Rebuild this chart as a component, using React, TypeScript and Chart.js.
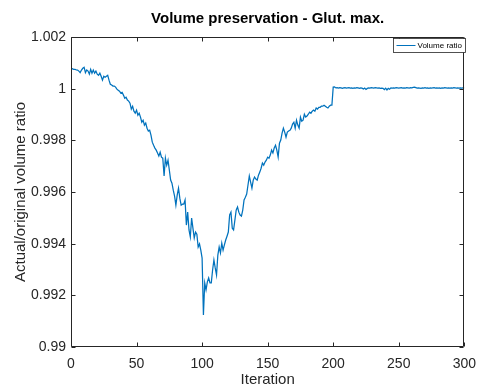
import { useEffect, useRef } from "react";
import { Chart, registerables } from "chart.js";

Chart.register(...registerables);

const TITLE = "Volume preservation - Glut. max.";
const X_LABEL = "Iteration";
const Y_LABEL = "Actual/original volume ratio";
const SERIES_LABEL = "Volume ratio";

const X_TICKS = [0, 50, 100, 150, 200, 250, 300];
const Y_TICKS = [0.99, 0.992, 0.994, 0.996, 0.998, 1, 1.002];

// Volume ratio per iteration, starting at iteration 0.
const VOLUME_RATIO = [
  1.00075, 1.00077, 1.00075, 1.00075, 1.00073, 1.00072, 1.00068, 1.00062, 1.00072, 1.00079,
  1.00083, 1.00062, 1.00072, 1.00068, 1.00056, 1.00075, 1.0006, 1.00072, 1.0006, 1.00068,
  1.00056, 1.00052, 1.0006, 1.00048, 1.00033, 1.00048, 1.00044, 1.00048, 1.00052, 1.00033,
  1.00017, 1.00014, 1.0001, 1.0001, 1.00006, 0.99998, 0.99994, 0.9999, 0.99983, 0.99986,
  0.99975, 0.99963, 0.99967, 0.99956, 0.99952, 0.99944, 0.99921, 0.99932, 0.99913, 0.99905,
  0.99917, 0.99897, 0.99905, 0.9989, 0.9987, 0.99878, 0.99859, 0.99867, 0.99847, 0.99836,
  0.99839, 0.9982, 0.99793, 0.99781, 0.9977, 0.99762, 0.99751, 0.99739, 0.99754, 0.99735,
  0.99731, 0.99662, 0.99731, 0.99704, 0.99723, 0.99685, 0.99646, 0.99634, 0.99607, 0.99584,
  0.99549, 0.99588, 0.99615, 0.99576, 0.99549, 0.99553, 0.99553, 0.99569, 0.99472, 0.99522,
  0.99453, 0.99426, 0.99499, 0.9946, 0.99422, 0.99445, 0.99437, 0.99387, 0.99399, 0.99375,
  0.99344, 0.99124, 0.99248, 0.99221, 0.99252, 0.99267, 0.99248, 0.99248, 0.99298, 0.99337,
  0.99306, 0.99279, 0.99356, 0.99387, 0.99364, 0.99402, 0.99375, 0.99395, 0.99414, 0.99429,
  0.99445, 0.99511, 0.99522, 0.9946, 0.99453, 0.99491, 0.9953, 0.99542, 0.99522, 0.99511,
  0.99507, 0.9953, 0.99569, 0.9958, 0.99592, 0.99627, 0.99662, 0.99638, 0.99615, 0.99646,
  0.99658, 0.9965, 0.99646, 0.99665, 0.99677, 0.99692, 0.99712, 0.99704, 0.99716, 0.99723,
  0.99735, 0.99731, 0.99743, 0.99762, 0.99751, 0.9977, 0.99781, 0.99762, 0.99735, 0.99789,
  0.99801, 0.99828, 0.99847, 0.99832, 0.99812, 0.99832, 0.99836, 0.99839, 0.99847, 0.99863,
  0.9987, 0.99847, 0.99878, 0.99859, 0.99847, 0.9989, 0.99874, 0.99878, 0.99901, 0.9989,
  0.99894, 0.99901, 0.99909, 0.99905, 0.99913, 0.99917, 0.99913, 0.99925, 0.99921, 0.99928,
  0.99928, 0.99932, 0.99932, 0.99936, 0.99932, 0.99928, 0.99925, 0.99932, 0.99936, 0.99936,
  1.00006, 1.00007, 1.00003, 1.00004, 1.00002, 1.00004, 1.00003, 1.00001, 1.00003, 1.00004,
  1.00002, 1.00003, 1.00004, 1.00002, 1.00003, 1.00001, 1.00003, 1.00002, 1.00004, 1.00003,
  1.00001, 1.00003, 1.00002, 0.99999, 1.00002, 0.99997, 1.00001, 1.00003, 1.00002, 1.00004,
  1.00003, 1.00002, 1.00004, 1.00003, 1.00002, 1.00003, 1.00001, 1.00002, 1.00001, 0.99996,
  1.00002, 0.99995, 1.00001, 0.99998, 1.00003, 1.00002, 1.00003, 1.00002, 1.00004, 1.00003,
  1.00002, 1.00003, 1.00004, 1.00002, 1.00003, 1.00002, 1.00004, 1.00003, 1.00002, 1.00004,
  1.00003, 1.00005, 1.00006, 1.00004, 1.00002, 1.00003, 1.00002, 1.00001, 1.00003, 1.00002,
  1.00004, 1.00002, 1.00003, 1.00001, 1.00003, 1.00002, 1.00003, 1.00004, 1.00002, 1.00003,
  1.00002, 1.00003, 1.00001, 1.00003, 1.00002, 1.00004, 1.00003, 1.00002, 1.00003, 1.00002,
  1.00003, 1.00002, 1.00004, 1.00003, 1.00002, 1.00003, 1.00002, 1.00003, 1.00002, 1.00003,
  1.00003,
];

const WIDTH = 485;
const HEIGHT = 387;
const FONT = "'Liberation Sans', Arial, Helvetica, sans-serif";
const AXIS_COLOR = "#262626";
const LINE_COLOR = "#0072BD";

const fmt = (v: number) => String(Number(v.toFixed(3)));

// Box around the axes with inward tick marks, title and legend.
const decorations = {
  id: "decorations",
  afterDatasetsDraw(chart: any) {
    const { ctx, chartArea: a, scales } = chart;
    const xs = scales.x;
    const ys = scales.y;
    const L = Math.round(a.left) + 0.5;
    const R = Math.round(a.right) - 0.5;
    const T = Math.round(a.top) + 0.5;
    const B = Math.round(a.bottom) - 0.5;
    const tick = 4;

    ctx.save();
    ctx.strokeStyle = AXIS_COLOR;
    ctx.lineWidth = 1;
    ctx.beginPath();
    ctx.rect(L, T, R - L, B - T);
    for (const v of X_TICKS) {
      const px = Math.round(xs.getPixelForValue(v)) + 0.5;
      ctx.moveTo(px, B);
      ctx.lineTo(px, B - tick);
      ctx.moveTo(px, T);
      ctx.lineTo(px, T + tick);
    }
    for (const v of Y_TICKS) {
      const py = Math.round(ys.getPixelForValue(v)) + 0.5;
      ctx.moveTo(L, py);
      ctx.lineTo(L + tick, py);
      ctx.moveTo(R, py);
      ctx.lineTo(R - tick, py);
    }
    ctx.stroke();

    // title
    ctx.fillStyle = "#000";
    ctx.font = `bold 15px ${FONT}`;
    ctx.textAlign = "center";
    ctx.textBaseline = "middle";
    ctx.fillText(TITLE, (a.left + a.right) / 2, 18.5);

    // legend
    const bx = 393.5;
    const by = 38.5;
    const bw = 72;
    const bh = 14;
    ctx.fillStyle = "#fff";
    ctx.fillRect(bx, by, bw, bh);
    ctx.strokeStyle = AXIS_COLOR;
    ctx.lineWidth = 0.8;
    ctx.strokeRect(bx, by, bw, bh);
    ctx.strokeStyle = LINE_COLOR;
    ctx.lineWidth = 1;
    ctx.beginPath();
    ctx.moveTo(bx + 3, by + 7);
    ctx.lineTo(bx + 22, by + 7);
    ctx.stroke();
    ctx.fillStyle = "#000";
    ctx.font = `8px ${FONT}`;
    ctx.textAlign = "left";
    ctx.textBaseline = "middle";
    ctx.fillText(SERIES_LABEL, bx + 24, by + 7.5);
    ctx.restore();
  },
};

export default function App() {
  const canvasRef = useRef<HTMLCanvasElement | null>(null);

  useEffect(() => {
    const canvas = canvasRef.current;
    if (!canvas) return;
    const points = VOLUME_RATIO.map((v, i) => ({ x: i, y: v }));

    const chart = new Chart(canvas, {
      type: "line",
      data: {
        datasets: [
          {
            label: SERIES_LABEL,
            data: points,
            borderColor: LINE_COLOR,
            borderWidth: 1.25,
            pointRadius: 0,
            tension: 0,
            fill: false,
          },
        ],
      },
      options: {
        responsive: false,
        animation: false,
        devicePixelRatio: 1,
        layout: { padding: { left: 0, top: 37, right: 18, bottom: 0 } },
        plugins: {
          legend: { display: false },
          title: { display: false },
          tooltip: { enabled: false },
        },
        scales: {
          x: {
            type: "linear",
            min: X_TICKS[0],
            max: X_TICKS[X_TICKS.length - 1],
            grid: { display: false, drawTicks: false },
            border: { display: false },
            afterBuildTicks: (s: any) => {
              s.ticks = X_TICKS.map((value) => ({ value }));
            },
            afterFit: (s: any) => {
              s.height = 40;
            },
            ticks: {
              padding: 9,
              color: AXIS_COLOR,
              font: { family: FONT, size: 14 },
              maxRotation: 0,
              callback: (v: any) => String(v),
            },
            title: {
              display: true,
              text: X_LABEL,
              color: AXIS_COLOR,
              font: { family: FONT, size: 15 },
              padding: { top: 0, bottom: -2 },
            },
          },
          y: {
            type: "linear",
            min: Y_TICKS[0],
            max: Y_TICKS[Y_TICKS.length - 1],
            grid: { display: false, drawTicks: false },
            border: { display: false },
            afterBuildTicks: (s: any) => {
              s.ticks = Y_TICKS.map((value) => ({ value }));
            },
            afterFit: (s: any) => {
              s.width = 71;
            },
            ticks: {
              padding: 5,
              color: AXIS_COLOR,
              font: { family: FONT, size: 14 },
              callback: (v: any) => fmt(Number(v)),
            },
            title: {
              display: true,
              text: Y_LABEL,
              color: AXIS_COLOR,
              font: { family: FONT, size: 15 },
              padding: { top: 12, bottom: 0 },
            },
          },
        },
      },
      plugins: [decorations],
    });

    return () => chart.destroy();
  }, []);

  return (
    <div style={{ position: "fixed", left: 0, top: 0, width: WIDTH, height: HEIGHT, background: "#fff" }}>
      <canvas ref={canvasRef} width={WIDTH} height={HEIGHT} style={{ display: "block" }} />
    </div>
  );
}
